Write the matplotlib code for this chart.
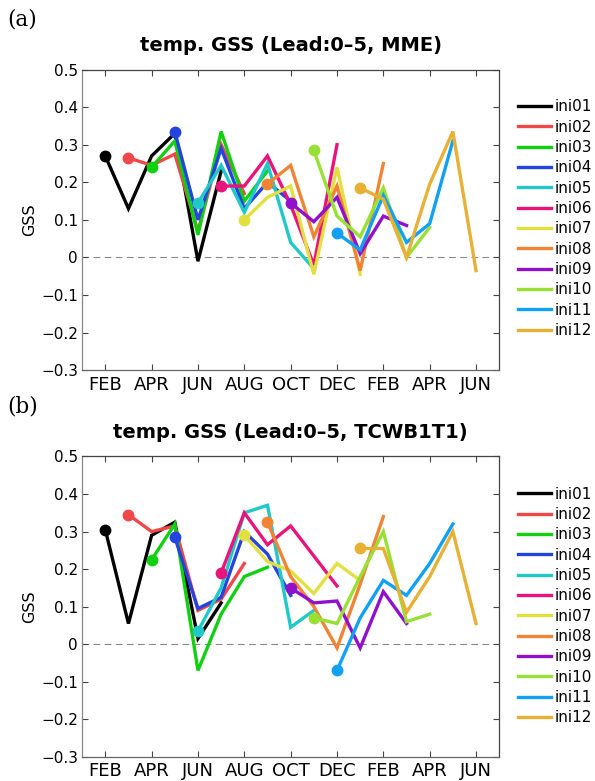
import matplotlib

matplotlib.use("Agg")
import matplotlib.pyplot as plt
from matplotlib.ticker import FuncFormatter

plt.rcParams["font.family"] = ["DejaVu Sans"]

# x positions: 1 = FEB, 2 = MAR, ... 17 = JUN of the following year
start_month = [1, 2, 3, 4, 5, 6, 7, 8, 9, 10, 11, 12]
init_labels = ["ini01", "ini02", "ini03", "ini04", "ini05", "ini06",
               "ini07", "ini08", "ini09", "ini10", "ini11", "ini12"]
tick_months = [1, 3, 5, 7, 9, 11, 13, 15, 17]
tick_labels = ["FEB", "APR", "JUN", "AUG", "OCT", "DEC", "FEB", "APR", "JUN"]
line_colors = ["#000000", "#f04848", "#10d010", "#2444e0", "#20c8c8", "#e8147c",
               "#e2e040", "#f08434", "#9010cc", "#98e034", "#10a0f4", "#e8b034"]

# GSS for lead 0-5, one row per initial month
gss_mme = [
    [0.27, 0.13, 0.27, 0.33, -0.01, 0.23],
    [0.265, 0.245, 0.275, 0.07, 0.30, 0.17],
    [0.24, 0.31, 0.06, 0.335, 0.15, 0.23],
    [0.335, 0.10, 0.29, 0.13, 0.20, 0.15],
    [0.145, 0.245, 0.12, 0.25, 0.04, -0.03],
    [0.19, 0.19, 0.27, 0.14, -0.02, 0.30],
    [0.10, 0.16, 0.19, -0.045, 0.24, -0.045],
    [0.195, 0.245, 0.055, 0.19, -0.035, 0.25],
    [0.145, 0.095, 0.16, 0.01, 0.11, 0.085],
    [0.285, 0.11, 0.055, 0.185, 0.0, 0.08],
    [0.065, 0.02, 0.165, 0.04, 0.09, 0.31],
    [0.185, 0.155, 0.0, 0.195, 0.335, -0.035],
]
gss_tcwb = [
    [0.305, 0.055, 0.29, 0.325, 0.015, 0.11],
    [0.345, 0.30, 0.315, 0.09, 0.12, 0.215],
    [0.225, 0.32, -0.07, 0.08, 0.18, 0.205],
    [0.285, 0.095, 0.125, 0.30, 0.24, 0.13],
    [0.035, 0.15, 0.35, 0.37, 0.045, 0.09],
    [0.19, 0.35, 0.265, 0.315, 0.235, 0.155],
    [0.29, 0.22, 0.195, 0.135, 0.215, 0.17],
    [0.325, 0.18, 0.10, -0.01, 0.16, 0.34],
    [0.15, 0.11, 0.115, -0.01, 0.14, 0.055],
    [0.07, 0.055, 0.18, 0.30, 0.06, 0.08],
    [-0.07, 0.07, 0.17, 0.13, 0.215, 0.32],
    [0.255, 0.255, 0.085, 0.18, 0.30, 0.055],
]


def fmt_tick(v, _pos):
    if abs(v) < 1e-9:
        return "0"
    return f"{v:.1f}".replace("-", "\u2212")


def draw_panel(fig, rect, data, title, tag, legend_top):
    ax = fig.add_axes(rect)
    ax.axhline(0, color="#888888", lw=0.8, ls=(0, (6, 4)), zorder=1)
    handles = []
    for i, row in enumerate(data):
        xs = [start_month[i] + k for k in range(len(row))]
        (ln,) = ax.plot(xs, row, color=line_colors[i], lw=2.4, solid_joinstyle="miter",
                        label=init_labels[i], zorder=2 + i * 0.01)
        ax.plot(xs[0], row[0], "o", color=line_colors[i], ms=7.5, zorder=2 + i * 0.01)
        handles.append(ln)

    ax.set_xlim(0, 18)
    ax.set_ylim(-0.3, 0.5)
    ax.set_xticks(tick_months)
    ax.set_xticklabels(tick_labels)
    ax.set_yticks([-0.3, -0.2, -0.1, 0, 0.1, 0.2, 0.3, 0.4, 0.5])
    ax.yaxis.set_major_formatter(FuncFormatter(fmt_tick))
    ax.tick_params(direction="in", top=True, right=True, length=4, width=0.8,
                   color="#444444", labelsize=11, pad=3)
    ax.tick_params(axis="x", labelsize=13, pad=4)
    for s in ax.spines.values():
        s.set_color("#444444")
        s.set_linewidth(0.9)
    ax.spines["left"].set_color("#888888")
    ax.spines["bottom"].set_color("#666666")
    ax.set_ylabel("GSS", fontsize=11.5, labelpad=3)
    ax.set_title(title, fontsize=14, fontweight="bold", pad=13)
    fig.text(0.012, rect[1] + rect[3] + 0.064, tag, family="DejaVu Serif", fontsize=15.5,
             va="center", ha="left")

    fig.legend(handles=handles, loc="upper left", bbox_to_anchor=(0.871, legend_top),
               frameon=False, fontsize=11, handlelength=2.15, handletextpad=0.2,
               labelspacing=0.35, borderpad=0, borderaxespad=0)
    return ax


fig = plt.figure(figsize=(5.95, 7.81), dpi=100)
draw_panel(fig, [0.138, 0.526, 0.701, 0.385], gss_mme,
           "temp. GSS (Lead:0\u20135, MME)", "(a)", 0.873)
draw_panel(fig, [0.138, 0.031, 0.701, 0.3845], gss_tcwb,
           "temp. GSS (Lead:0\u20135, TCWB1T1)", "(b)", 0.377)
fig.savefig("out.png", dpi=100)
